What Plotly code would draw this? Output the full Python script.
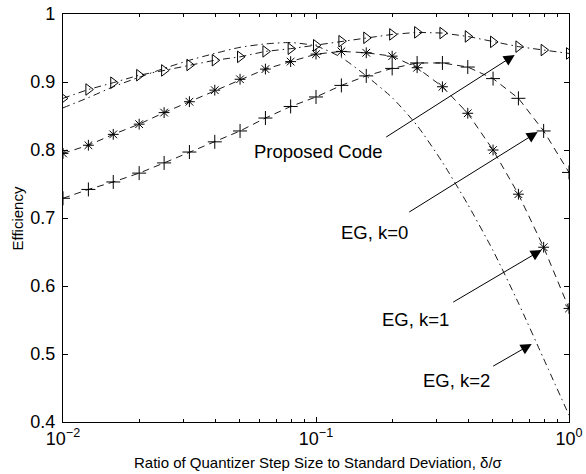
import math
import plotly.graph_objects as go

# Quantizer step size relative to standard deviation (delta / sigma)
step_ratio = [0.01, 0.0126, 0.0158, 0.0200, 0.0251, 0.0316, 0.0398, 0.0501, 0.0631, 0.0794,
              0.100, 0.126, 0.158, 0.200, 0.251, 0.316, 0.398, 0.501, 0.631, 0.794, 1.0]

# Coding efficiency of each scheme
eff_proposed = [0.876, 0.889, 0.899, 0.910, 0.917, 0.925, 0.932, 0.937, 0.945, 0.949,
                0.954, 0.960, 0.965, 0.970, 0.973, 0.972, 0.967, 0.959, 0.952, 0.947, 0.942]
eff_eg_k0 = [0.729, 0.742, 0.753, 0.766, 0.781, 0.797, 0.812, 0.828, 0.847, 0.864,
             0.878, 0.895, 0.909, 0.920, 0.928, 0.928, 0.922, 0.905, 0.876, 0.828, 0.767]
eff_eg_k1 = [0.795, 0.807, 0.823, 0.838, 0.855, 0.871, 0.888, 0.904, 0.919, 0.930,
             0.941, 0.945, 0.943, 0.938, 0.921, 0.893, 0.854, 0.800, 0.735, 0.657, 0.567]
eff_eg_k2 = [0.862, 0.877, 0.893, 0.907, 0.920, 0.932, 0.942, 0.951, 0.956, 0.958,
             0.953, 0.936, 0.909, 0.877, 0.836, 0.782, 0.720, 0.652, 0.575, 0.493, 0.410]

x_tick_vals = [0.01, 0.1, 1.0]
x_tick_text = ["10<sup>\u22122</sup>", "10<sup>\u22121</sup>", "10<sup>0</sup>"]
x_minor_vals = [0.02, 0.03, 0.04, 0.05, 0.06, 0.07, 0.08, 0.09,
                0.2, 0.3, 0.4, 0.5, 0.6, 0.7, 0.8, 0.9]
y_tick_vals = [0.4, 0.5, 0.6, 0.7, 0.8, 0.9, 1.0]
y_tick_text = ["0.4", "0.5", "0.6", "0.7", "0.8", "0.9", "1"]

FONT = "Liberation Sans, Arial, Helvetica, sans-serif"
DASHED = "7px,5px"
DASHDOT = "7px,4px,1.5px,4px"

fig = go.Figure()

fig.add_trace(go.Scatter(
    x=step_ratio, y=eff_eg_k2, mode="lines", name="EG, k=2",
    line=dict(color="black", width=0.9, dash=DASHDOT, shape="spline", smoothing=0.6),
))
fig.add_trace(go.Scatter(
    x=step_ratio, y=eff_proposed, mode="lines+markers", name="Proposed Code",
    line=dict(color="black", width=0.9, dash=DASHDOT),
    marker=dict(symbol="triangle-right-open", size=10, color="black",
                line=dict(color="black", width=1)),
))
fig.add_trace(go.Scatter(
    x=step_ratio, y=eff_eg_k1, mode="lines+markers", name="EG, k=1",
    line=dict(color="black", width=0.9, dash=DASHED),
    marker=dict(symbol="asterisk-open", size=9, color="black",
                line=dict(color="black", width=1)),
))
fig.add_trace(go.Scatter(
    x=step_ratio, y=eff_eg_k0, mode="lines+markers", name="EG, k=0",
    line=dict(color="black", width=0.9, dash=DASHED),
    marker=dict(symbol="cross-thin-open", size=10, color="black",
                line=dict(color="black", width=1)),
))

# Arrow callouts: (label, label position, arrow tail, arrow head)
callouts = [
    ("Proposed Code", (0.1025, 0.7985), (0.1868, 0.8176), (0.610, 0.9397)),
    ("EG, k=0", (0.1706, 0.6787), (0.2304, 0.7074), (0.752, 0.8265)),
    ("EG, k=1", (0.2477, 0.5504), (0.3439, 0.575), (0.780, 0.653)),
    ("EG, k=2", (0.358, 0.4606), (0.4948, 0.4809), (0.712, 0.5147)),
]
for label, (tx, ty), (ax_, ay_), (hx, hy) in callouts:
    fig.add_annotation(
        x=math.log10(hx), y=hy, ax=math.log10(ax_), ay=ay_,
        xref="x", yref="y", axref="x", ayref="y",
        text="", showarrow=True, arrowhead=2, arrowsize=2.2,
        arrowwidth=1, arrowcolor="black",
    )
    fig.add_annotation(
        x=math.log10(tx), y=ty, xref="x", yref="y", text=label,
        showarrow=False, font=dict(family=FONT, size=18.5, color="black"),
        xanchor="center", yanchor="middle",
    )

# Axis titles
fig.add_annotation(
    x=0.504, y=-0.10, xref="paper", yref="paper", yanchor="middle",
    text="Ratio of Quantizer Step Size to Standard Deviation, \u03b4/\u03c3",
    showarrow=False, font=dict(family=FONT, size=15, color="black"),
)
fig.add_annotation(
    x=-0.090, y=0.5, xref="paper", yref="paper", xanchor="center", textangle=-90,
    text="Efficiency", showarrow=False, font=dict(family=FONT, size=15, color="black"),
)

axis_common = dict(
    showline=True, linecolor="black", linewidth=1.2, mirror="allticks",
    ticks="inside", ticklen=5, tickwidth=1, tickcolor="black",
    showgrid=False, zeroline=False, automargin=False,
    tickfont=dict(family=FONT, size=18, color="black"),
)

fig.update_xaxes(
    type="log", range=[-2, 0],
    tickvals=x_tick_vals, ticktext=x_tick_text,
    minor=dict(ticks="inside", ticklen=3, tickwidth=1, tickcolor="black",
               tickvals=x_minor_vals, showgrid=False),
    **axis_common,
)
fig.update_yaxes(
    range=[0.4, 1.0], tickvals=y_tick_vals, ticktext=y_tick_text,
    ticklabelstandoff=3,
    **axis_common,
)

fig.update_layout(
    width=586, height=474,
    margin=dict(l=63, r=17, t=14, b=52),
    paper_bgcolor="white", plot_bgcolor="white",
    showlegend=False,
    font=dict(family=FONT, color="black"),
)

fig.write_html("out.html")
